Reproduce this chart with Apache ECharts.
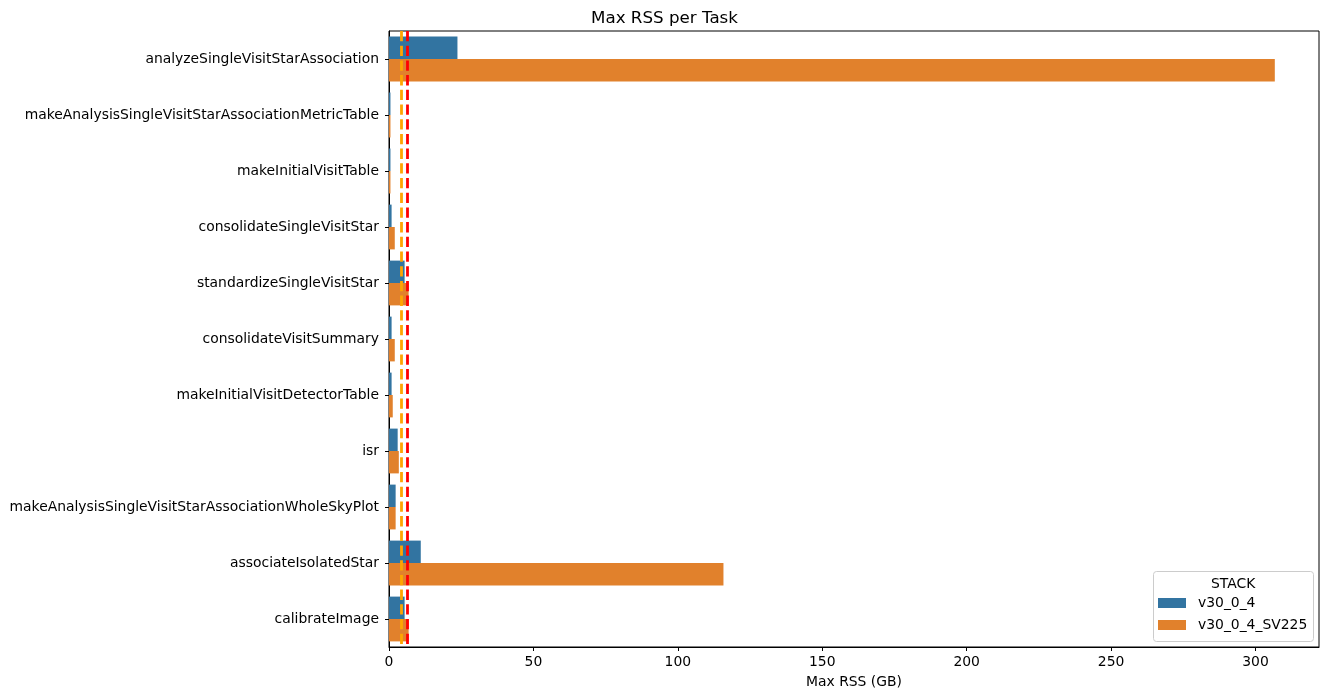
<!DOCTYPE html>
<html>
<head>
<meta charset="utf-8">
<script src="https://cdn.jsdelivr.net/npm/echarts@6/dist/echarts.min.js"></script>
<style>html,body{margin:0;padding:0;background:#fff}#c{width:1329px;height:699px}</style>
</head>
<body>
<div id="c"></div>
<script>
const categories = ["analyzeSingleVisitStarAssociation","makeAnalysisSingleVisitStarAssociationMetricTable","makeInitialVisitTable","consolidateSingleVisitStar","standardizeSingleVisitStar","consolidateVisitSummary","makeInitialVisitDetectorTable","isr","makeAnalysisSingleVisitStarAssociationWholeSkyPlot","associateIsolatedStar","calibrateImage"];
const v30_0_4 = [23.7, 0.5, 0.5, 0.9, 5.4, 0.9, 0.9, 3.0, 2.3, 11.0, 5.4];
const v30_0_4_SV225 = [306.7, 0.5, 0.5, 2.0, 6.8, 2.0, 1.3, 3.4, 2.3, 115.8, 6.8];
const thresholdOrange = 4.2;
const thresholdRed = 6.2;
const xTicks = [0, 50, 100, 150, 200, 250, 300];

const chart = echarts.init(document.getElementById('c'));
const font = 'DejaVu Sans';
const fs = 13.9;
chart.setOption({
  animation: false,
  textStyle: {fontFamily: font},
  title: {text: 'Max RSS per Task', left: 'center', top: 5, textStyle: {fontFamily: font, fontSize: 16.7, fontWeight: 'normal', color: '#000'}},
  grid: {left: 389, right: 10, top: 31, bottom: 52, show: true, borderColor: '#000', borderWidth: 1, backgroundColor: 'transparent'},
  xAxis: {type: 'value', min: 0, max: 322, interval: 50,
    name: 'Max RSS (GB)', nameLocation: 'middle', nameGap: 28, nameTextStyle: {fontSize: fs, color: '#000', fontFamily: font},
    axisLine: {show: true, lineStyle: {color: '#000'}},
    axisTick: {show: true, length: 4, customValues: xTicks, lineStyle: {color: '#000'}},
    axisLabel: {fontSize: fs, color: '#000', margin: 8, fontFamily: font, customValues: xTicks},
    splitLine: {show: false}},
  yAxis: {type: 'category', data: categories, inverse: true,
    axisLine: {show: true, lineStyle: {color: '#000'}},
    axisTick: {show: true, alignWithLabel: true, length: 4, lineStyle: {color: '#000'}},
    axisLabel: {fontSize: fs, color: '#000', margin: 10, fontFamily: font}},
  legend: {orient: 'vertical', left: 1158, top: 596, padding: 0, itemWidth: 28, itemHeight: 10, itemGap: 8,
    icon: 'rect',
    textStyle: {fontSize: fs, color: '#000', fontFamily: font, padding: [0, 0, 0, 7]},
    data: ['v30_0_4', 'v30_0_4_SV225']},
  graphic: [
    {type: 'rect', left: 1153, top: 571, shape: {width: 160, height: 70, r: 3}, style: {fill: 'rgba(255,255,255,0.8)', stroke: '#ccc', lineWidth: 1}, z: 0},
    {type: 'text', left: 1211, top: 577, style: {text: 'STACK', fontSize: fs, fill: '#000', fontFamily: font}, z: 10}
  ],
  series: [
    {name: 'v30_0_4', type: 'bar', data: v30_0_4, itemStyle: {color: '#3274a1'}, barGap: '0%', barCategoryGap: '20%',
      markLine: {silent: true, symbol: 'none', label: {show: false}, z: 10,
        data: [
          {xAxis: thresholdOrange, lineStyle: {color: 'orange', type: [10.3, 4.4], width: 2.8}},
          {xAxis: thresholdRed, lineStyle: {color: 'red', type: [10.3, 4.4], width: 2.8}}
        ]}},
    {name: 'v30_0_4_SV225', type: 'bar', data: v30_0_4_SV225, itemStyle: {color: '#e1812c'}, barGap: '0%', barCategoryGap: '20%'}
  ]
});
</script>
</body>
</html>
